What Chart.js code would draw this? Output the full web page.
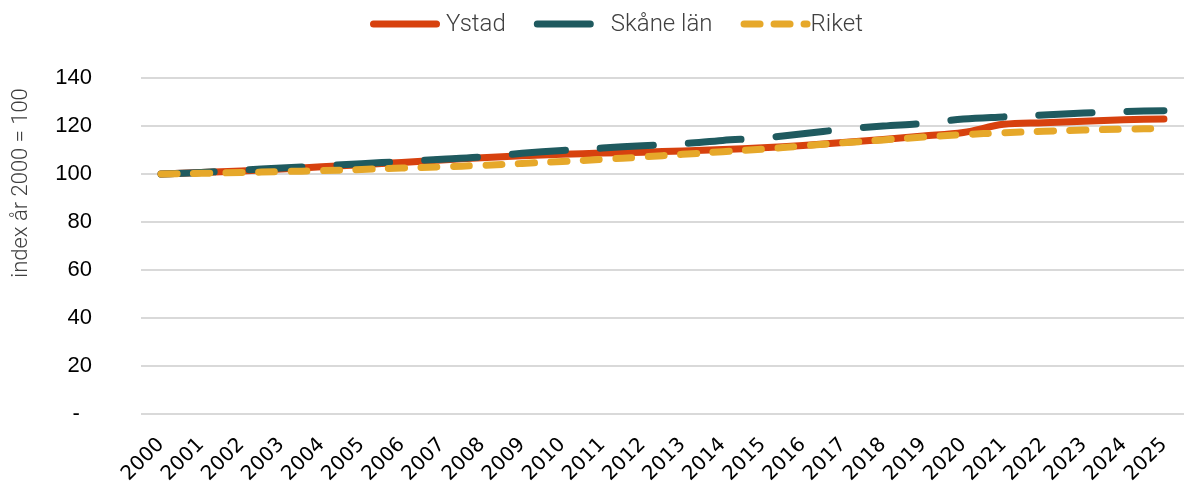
<!DOCTYPE html>
<html>
<head>
<meta charset="utf-8">
<script src="https://cdn.jsdelivr.net/npm/chart.js@4.4.1/dist/chart.umd.min.js"></script>
<style>
  html, body { margin: 0; padding: 0; background: #fff; }
  #wrap { width: 1192px; height: 484px; }
</style>
</head>
<body>
<div id="wrap"><canvas id="grafico"></canvas></div>
<script>
// år (kategorier)
var years = ['2000', '2001', '2002', '2003', '2004', '2005', '2006', '2007', '2008', '2009',
  '2010', '2011', '2012', '2013', '2014', '2015', '2016', '2017', '2018', '2019',
  '2020', '2021', '2022', '2023', '2024', '2025'];

// index år 2000 = 100
var ystad = [100, 100.6, 101.3, 102.1, 103.0, 103.9, 104.8, 105.8, 106.8, 107.6,
  108.2, 108.7, 109.1, 109.6, 110.2, 110.9, 111.9, 113.1, 114.4, 115.8,
  117.3, 120.7, 121.4, 122.0, 122.6, 122.9];
var skane = [100, 100.6, 101.6, 102.5, 103.4, 104.3, 105.2, 106.1, 107.1, 108.6,
  109.8, 110.8, 111.8, 112.6, 114.0, 115.0, 116.8, 118.6, 120.0, 121.1,
  122.9, 123.8, 124.6, 125.4, 126.0, 126.4];
var riket = [100, 100.3, 100.6, 101.0, 101.4, 101.9, 102.5, 103.0, 103.6, 104.4,
  105.2, 106.1, 107.1, 108.2, 109.3, 110.4, 111.7, 113.0, 114.2, 115.4,
  116.4, 117.2, 117.8, 118.3, 118.7, 119.0];

// y-axelns steg
var yTicks = [0, 20, 40, 60, 80, 100, 120, 140];
var yTitle = 'index år 2000 = 100';

// egen legend ritad som linjer + y-axelns rubrik
var linjeLegend = {
  id: 'linjeLegend',
  afterDraw: function (chart) {
    var ctx = chart.ctx;
    var x = 370, y = 24;
    ctx.save();
    ctx.font = '300 24px Roboto';
    ctx.textBaseline = 'middle';
    chart.data.datasets.forEach(function (ds) {
      ctx.save();
      ctx.beginPath();
      ctx.setLineDash(ds.legendDash || []);
      ctx.lineCap = 'round';
      ctx.lineWidth = 7;
      ctx.strokeStyle = ds.borderColor;
      ctx.moveTo(x + 3.5, y);
      ctx.lineTo(x + 66.5, y);
      ctx.stroke();
      ctx.restore();
      ctx.fillStyle = '#404040';
      ctx.fillText(ds.label, x + ds.textGap, y + 1);
      x += ds.textGap + ctx.measureText(ds.label).width + 28;
    });

    // y-rubrik
    ctx.translate(21, 183);
    ctx.rotate(-Math.PI / 2);
    ctx.font = '300 22px Roboto';
    ctx.textAlign = 'center';
    ctx.fillStyle = '#404040';
    ctx.fillText(yTitle, 0, 0);
    ctx.restore();
  }
};

var data = {
  labels: years,
  datasets: [{
    label: 'Ystad',
    data: ystad,
    borderColor: '#D7410E',
    backgroundColor: '#D7410E',
    borderWidth: 7,
    borderCapStyle: 'round',
    borderJoinStyle: 'round',
    textGap: 76,
    order: 2
  },
  {
    label: 'Skåne län',
    data: skane,
    borderColor: '#1F5A5F',
    backgroundColor: '#1F5A5F',
    borderWidth: 7,
    borderDash: [53, 35],
    legendDash: [53, 35],
    borderCapStyle: 'round',
    borderJoinStyle: 'round',
    textGap: 77,
    order: 1
  },
  {
    label: 'Riket',
    data: riket,
    borderColor: '#E6A82A',
    backgroundColor: '#E6A82A',
    borderWidth: 7,
    borderDash: [16, 16.5],
    legendDash: [16, 14],
    borderCapStyle: 'round',
    borderJoinStyle: 'round',
    textGap: 70,
    order: 0
  }]
};

var options = {
  responsive: true,
  maintainAspectRatio: false,
  animation: false,
  devicePixelRatio: 1,
  layout: { padding: { top: 78, left: 5, right: 4, bottom: 0 } },
  elements: {
    point: { radius: 0, hoverRadius: 0 },
    line: { tension: 0.35 }
  },
  plugins: {
    legend: { display: false },
    tooltip: { enabled: false }
  },
  scales: {
    x: {
      offset: true,
      grid: { display: false },
      border: { display: false },
      ticks: {
        autoSkip: false,
        minRotation: 45,
        maxRotation: 45,
        padding: 11,
        color: '#000',
        font: { family: 'DejaVu Sans', size: 20 }
      },
      afterFit: function (scale) { scale.height = 70; }
    },
    y: {
      min: 0,
      max: 140,
      afterBuildTicks: function (scale) {
        scale.ticks = yTicks.map(function (v) { return { value: v }; });
      },
      grid: { color: '#d9d9d9', lineWidth: 2, drawTicks: false },
      border: { display: false },
      ticks: {
        padding: 49,
        color: '#000',
        font: { family: 'Liberation Sans', size: 22 },
        callback: function (v) { return v === 0 ? '-  ' : v; }
      },
      afterFit: function (scale) { scale.width = 136; }
    }
  }
};

var ctx = document.querySelector('#grafico').getContext('2d');
var lineChart = new Chart(ctx, {
  type: 'line',
  data: data,
  options: options,
  plugins: [linjeLegend]
});
</script>
</body>
</html>
